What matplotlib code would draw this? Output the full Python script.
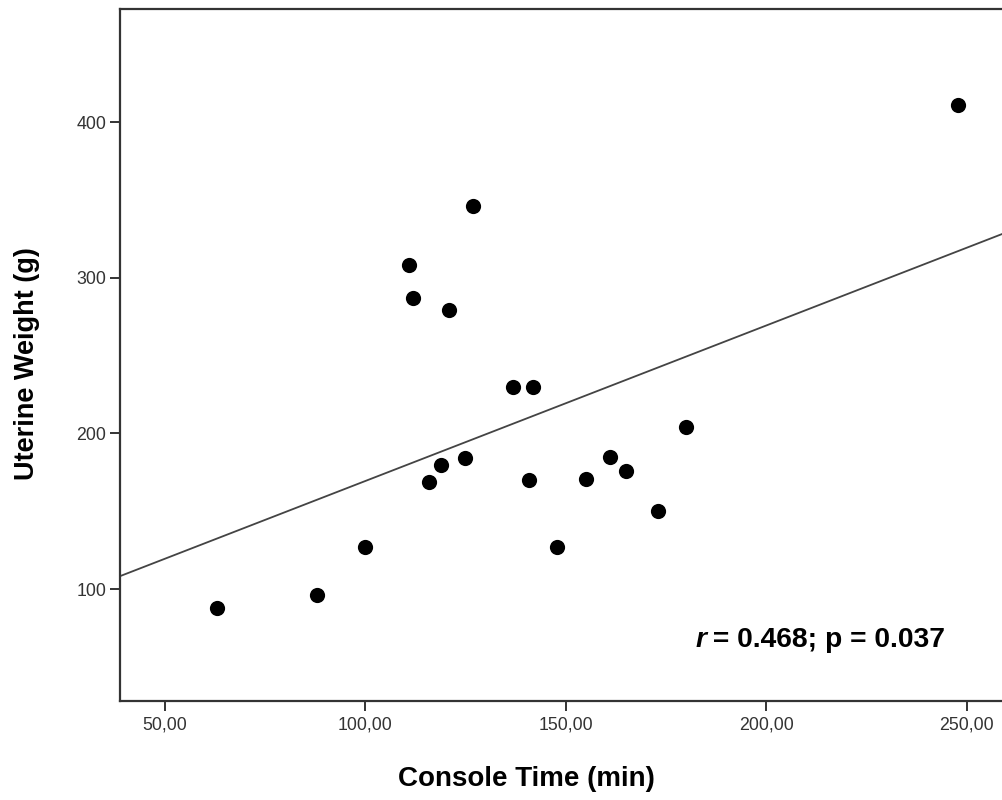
import numpy as np
import matplotlib
matplotlib.use("Agg")
import matplotlib.pyplot as plt

# Data
console_time = [63, 88, 100, 111, 112, 116, 119, 121, 125, 127,
                137, 142, 141, 148, 155, 161, 165, 173, 180, 248]
uterine_weight = [88, 96, 127, 308, 287, 169, 180, 279, 184, 346,
                  230, 230, 170, 127, 171, 185, 176, 150, 204, 411]
x_ticks = [50, 100, 150, 200, 250]
x_tick_labels = ["50,00", "100,00", "150,00", "200,00", "250,00"]
y_ticks = [100, 200, 300, 400]
y_tick_labels = ["100", "200", "300", "400"]
x_label = "Console Time (min)"
y_label = "Uterine Weight (g)"
stat_r = "r"
stat_rest = " = 0.468; p = 0.037"

plt.rcParams['font.family'] = ['Liberation Sans', 'DejaVu Sans']

W, H = 1002, 800
fig = plt.figure(figsize=(W / 100, H / 100), dpi=100)
left_px, right_px, top_px, bot_px = 120, 1012, 9, 701
ax = fig.add_axes([left_px / W, 1 - bot_px / H, (right_px - left_px) / W, (bot_px - top_px) / H])

ax.set_xlim(38.9, 38.9 + (right_px - left_px) / 4.01)
ax.set_ylim(28.1, 472.6)

ax.scatter(console_time, uterine_weight, s=120, color='black', zorder=3, linewidths=0)

slope, intercept = np.polyfit(console_time, uterine_weight, 1)
xl = np.array(ax.get_xlim())
ax.plot(xl, intercept + slope * xl, color='#444444', lw=1.3, zorder=2)

ax.set_xticks(x_ticks)
ax.set_xticklabels(x_tick_labels)
ax.set_yticks(y_ticks)
ax.set_yticklabels(y_tick_labels)
ax.tick_params(axis='both', direction='out', length=7, width=1.4, color='#333333',
               labelsize=12.8, labelcolor='#333333', pad=3)
ax.tick_params(axis='x', pad=4)
for sp in ax.spines.values():
    sp.set_linewidth(1.6)
    sp.set_color('#333333')

fig.text(526 / W, 1 - 779 / H, x_label, ha='center', va='center', fontsize=20, fontweight='bold')
fig.text(27 / W, 1 - 364 / H, y_label, ha='center', va='center', rotation=90, fontsize=19.5, fontweight='bold')

fig.text(707 / W, 1 - 640 / H, stat_r, ha='right', va='center', fontsize=20.3, fontweight='bold', style='italic')
fig.text(705 / W, 1 - 640 / H, stat_rest, ha='left', va='center', fontsize=20.3, fontweight='bold')

fig.savefig("out.png", dpi=100)
